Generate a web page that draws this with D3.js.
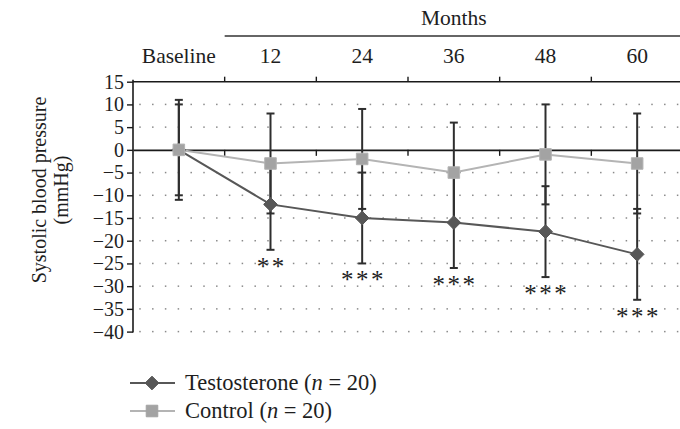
<!DOCTYPE html>
<html>
<head>
<meta charset="utf-8">
<script src="https://cdn.jsdelivr.net/npm/d3@7"></script>
<style>
  html, body { margin: 0; padding: 0; background: #fff; }
  svg { display: block; }
  text { font-family: "Liberation Serif", "Times New Roman", serif; fill: #1e1e1e; }
</style>
</head>
<body>
<div id="chart"></div>
<script>
// Categories along the x axis
const categories = ["Baseline", "12", "24", "36", "48", "60"];

// Mean change in systolic blood pressure (mmHg)
const testosterone = [0, -12, -15, -16, -18, -23];
const control = [0, -3, -2, -5, -1, -3];

// Error bar half-lengths (mmHg)
const testosteroneErr = [10, 10, 10, 10, 10, 10];
const controlErr = [11, 11, 11, 11, 11, 11];

// Significance markers for the testosterone group
const significance = ["", "**", "***", "***", "***", "***"];

// Y axis ticks
const yTicks = [15, 10, 5, 0, -5, -10, -15, -20, -25, -30, -35, -40];

const W = 680, H = 429;
const svg = d3.select("#chart").append("svg").attr("width", W).attr("height", H);

const x = d3.scaleBand().domain(categories).range([133, 683]);
const y = d3.scaleLinear().domain([-40, 15]).range([331.6, 81.7]);
const cx = c => x(c) + x.bandwidth() / 2;

const darkCol = "#575757";
const lightCol = "#b4b4b4";
const axisCol = "#1a1a1a";

// Dotted horizontal gridlines
const gridVals = yTicks.filter(v => v !== 15 && v !== 0);
const dotXs = d3.range(140, 683, 12.8);
const grid = svg.append("g");
gridVals.forEach(v => {
  grid.selectAll(null).data(dotXs).enter().append("rect")
    .attr("x", d => d - 0.75).attr("y", y(v) - 0.75)
    .attr("width", 1.5).attr("height", 1.5)
    .attr("fill", "#8a8a8a");
});

// Y axis
const yAxis = d3.axisLeft(y).tickValues(yTicks).tickSize(6).tickPadding(3)
  .tickFormat(d => d < 0 ? "\u2212" + Math.abs(d) : d);
const gy = svg.append("g").attr("transform", "translate(133,0)").call(yAxis);
gy.select(".domain").attr("stroke", axisCol).attr("stroke-width", 1.6)
  .attr("d", `M0,${y(-40) + 1}V${y(15) - 2}`);
gy.selectAll(".tick line").attr("stroke", axisCol).attr("stroke-width", 1.4);
gy.selectAll(".tick text").style("font-size", "20px")
  .style("font-family", "Liberation Serif, serif").attr("fill", "#1e1e1e");

// Top frame line with upward ticks at category boundaries
const boundaries = categories.slice(1).map(c => x(c));
svg.append("line").attr("x1", 133).attr("x2", 683)
  .attr("y1", y(15)).attr("y2", y(15)).attr("stroke", axisCol).attr("stroke-width", 1.4);
svg.selectAll(".ttick").data(boundaries).enter().append("line")
  .attr("x1", d => d).attr("x2", d => d)
  .attr("y1", y(15)).attr("y2", y(15) - 5)
  .attr("stroke", axisCol).attr("stroke-width", 1.4);

// Zero line (category axis) with downward ticks
const xAxis = d3.axisBottom(x).tickSize(0).tickFormat("");
const gx = svg.append("g").attr("transform", `translate(0,${y(0)})`).call(xAxis);
gx.select(".domain").attr("stroke", axisCol).attr("stroke-width", 1.6);
svg.selectAll(".ztick").data(boundaries).enter().append("line")
  .attr("x1", d => d).attr("x2", d => d)
  .attr("y1", y(0)).attr("y2", y(0) + 6)
  .attr("stroke", axisCol).attr("stroke-width", 1.4);

// Header: category labels and "Months" bracket
svg.selectAll(".cat").data(categories).enter().append("text")
  .attr("x", d => cx(d)).attr("y", 63)
  .attr("text-anchor", "middle").style("font-size", "21.5px")
  .text(d => d);
svg.append("line").attr("x1", x("12")).attr("x2", 683)
  .attr("y1", 36).attr("y2", 36).attr("stroke", "#333").attr("stroke-width", 1.5);
svg.append("text").attr("x", (x("12") + 683) / 2).attr("y", 25)
  .attr("text-anchor", "middle").style("font-size", "21.5px").text("Months");

// Y axis title
const yt = svg.append("text").attr("transform", "translate(46,190) rotate(-90)")
  .attr("text-anchor", "middle").style("font-size", "20px");
yt.append("tspan").attr("x", 0).attr("y", 0).text("Systolic blood pressure");
yt.append("tspan").attr("x", 0).attr("y", 22).text("(mmHg)");

// Error bars
function errorBars(vals, errs, cls) {
  const g = svg.append("g").attr("class", cls);
  categories.forEach((c, i) => {
    const xc = cx(c), hi = y(vals[i] + errs[i]), lo = y(vals[i] - errs[i]);
    g.append("line").attr("x1", xc).attr("x2", xc).attr("y1", hi).attr("y2", lo)
      .attr("stroke", "#2e2e2e").attr("stroke-width", 2);
    [hi, lo].forEach(yy => g.append("line")
      .attr("x1", xc - 4).attr("x2", xc + 4).attr("y1", yy).attr("y2", yy)
      .attr("stroke", "#2e2e2e").attr("stroke-width", 2));
  });
}
errorBars(control, controlErr, "err-control");
errorBars(testosterone, testosteroneErr, "err-testo");

// Series lines
const line = d3.line().x((d, i) => cx(categories[i])).y(d => y(d));
svg.append("path").datum(control).attr("d", line)
  .attr("fill", "none").attr("stroke", lightCol).attr("stroke-width", 2);
svg.append("path").datum(testosterone).attr("d", line)
  .attr("fill", "none").attr("stroke", darkCol).attr("stroke-width", 2);

// Markers
const diamond = d3.symbol().type(d3.symbolDiamond2).size(120);
const square = d3.symbol().type(d3.symbolSquare2).size(170);
svg.selectAll(".tm").data(testosterone).enter().append("path")
  .attr("d", diamond)
  .attr("transform", (d, i) => `translate(${cx(categories[i])},${y(d)})`)
  .attr("fill", darkCol).attr("stroke", darkCol).attr("stroke-width", 1);
svg.selectAll(".cm").data(control).enter().append("path")
  .attr("d", square)
  .attr("transform", (d, i) => `translate(${cx(categories[i])},${y(d)})`)
  .attr("fill", "#a3a3a3").attr("stroke", "#b3b3b3").attr("stroke-width", 1);

// Significance asterisks below the testosterone error bars
categories.forEach((c, i) => {
  const n = significance[i].length;
  if (!n) return;
  const yc = y(testosterone[i] - testosteroneErr[i]) + 11;
  for (let k = 0; k < n; k++) {
    svg.append("text").attr("x", cx(c) + (k - (n - 1) / 2) * 15).attr("y", yc + 14)
      .attr("text-anchor", "middle").style("font-size", "25px").attr("fill", "#333")
      .text("*");
  }
});

// Legend
const legend = [
  { label: "Testosterone", col: darkCol, sym: diamond, fill: darkCol, y: 383 },
  { label: "Control", col: lightCol, sym: square, fill: "#a3a3a3", y: 411 }
];
legend.forEach(l => {
  svg.append("line").attr("x1", 130).attr("x2", 175).attr("y1", l.y).attr("y2", l.y)
    .attr("stroke", l.col).attr("stroke-width", 2);
  svg.append("path").attr("d", l.sym).attr("transform", `translate(152,${l.y})`)
    .attr("fill", l.fill).attr("stroke", l.fill);
  const t = svg.append("text").attr("x", 185).attr("y", l.y + 7).style("font-size", "22.5px");
  t.append("tspan").text(l.label + " (");
  t.append("tspan").style("font-style", "italic").text("n");
  t.append("tspan").text(" = 20)");
});
</script>
</body>
</html>
